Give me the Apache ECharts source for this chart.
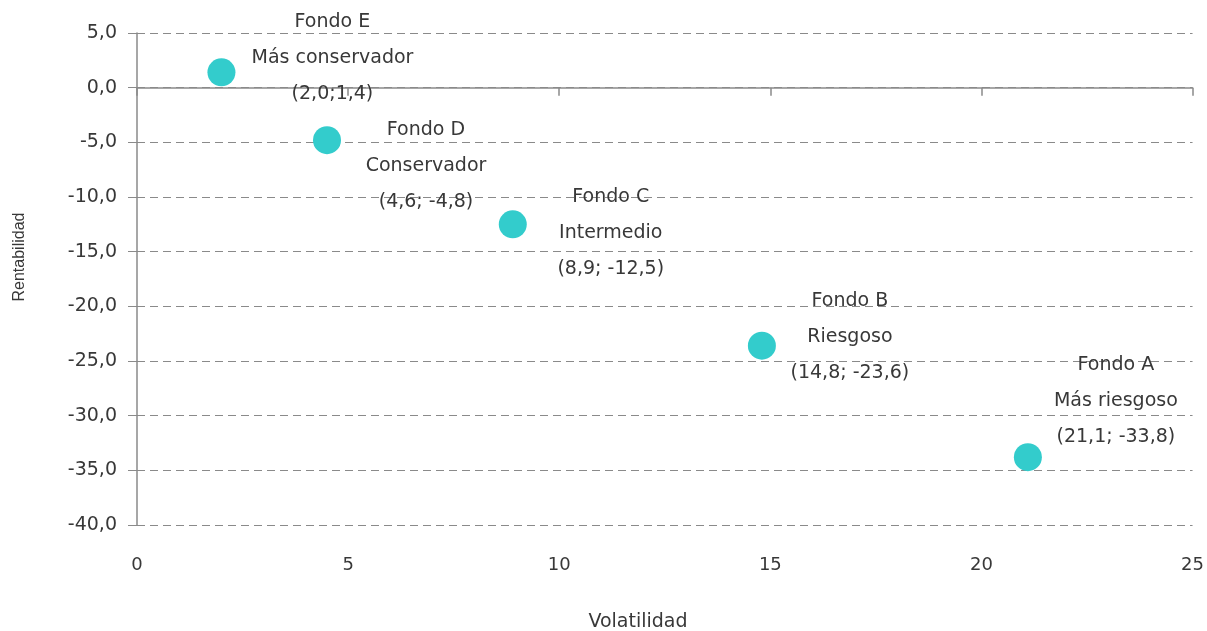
<!DOCTYPE html>
<html>
<head>
<meta charset="utf-8">
<script src="https://cdn.jsdelivr.net/npm/echarts@6/dist/echarts.min.js"></script>
<style>
html,body{margin:0;padding:0;background:#fff;}
#chart{width:1207px;height:631px;}
</style>
</head>
<body>
<div id="chart"></div>
<script>
// ---- data ----
const fundNames = ['Fondo E', 'Fondo D', 'Fondo C', 'Fondo B', 'Fondo A'];
const fundProfiles = ['Más conservador', 'Conservador', 'Intermedio', 'Riesgoso', 'Más riesgoso'];
const volatility = [2.0, 4.5, 8.9, 14.8, 21.1];
const returns = [1.4, -4.8, -12.5, -23.6, -33.8];
const coordLabels = ['(2,0;1,4)', '(4,6; -4,8)', '(8,9; -12,5)', '(14,8; -23,6)', '(21,1; -33,8)'];
const xAxisTitle = 'Volatilidad';
const yAxisTitle = 'Rentabilidad';

// ---- layout (label placement per point, px) ----
const labelOffsets = [[111, -14], [99, 26], [98, 9], [88, -9], [88, -56]];

const textColor = '#383838';
const lineColor = '#8a8a8a';
const font = 'DejaVu Sans';

const seriesData = volatility.map((v, i) => ({
  value: [v, returns[i]],
  name: fundNames[i],
  label: { offset: labelOffsets[i] }
}));

const chart = echarts.init(document.getElementById('chart'), null, { renderer: 'canvas' });
chart.setOption({
  animation: false,
  backgroundColor: '#ffffff',
  grid: { left: 137, right: 14, top: 33, bottom: 106, containLabel: false },
  xAxis: [
    {
      type: 'value', min: 0, max: 25, interval: 5,
      axisLine: { show: true, onZero: true, lineStyle: { color: lineColor, width: 1.5 } },
      axisTick: { show: true, length: 8, lineStyle: { color: lineColor, width: 1.5 } },
      axisLabel: { show: false },
      splitLine: { show: false }
    },
    {
      type: 'value', min: 0, max: 25, interval: 5, position: 'bottom',
      axisLine: { show: false, onZero: false },
      axisTick: { show: false },
      axisLabel: { show: true, margin: 31, color: textColor, fontFamily: font, fontSize: 18 },
      splitLine: { show: false }
    }
  ],
  yAxis: {
    type: 'value', min: -40, max: 5, interval: 5,
    axisLine: { show: true, onZero: false, lineStyle: { color: lineColor, width: 1.5 } },
    axisTick: { show: true, length: 9, lineStyle: { color: lineColor, width: 1 } },
    axisLabel: {
      margin: 20, color: textColor, fontFamily: font, fontSize: 19,
      formatter: v => v.toFixed(1).replace('.', ',')
    },
    splitLine: { show: true, lineStyle: { color: lineColor, width: 1, type: [8, 5] } }
  },
  graphic: [
    {
      type: 'text', x: 638, y: 622,
      style: { text: xAxisTitle, fill: textColor, font: '19px "' + font + '"', textAlign: 'center', textVerticalAlign: 'middle' }
    },
    {
      type: 'text', x: 20, y: 257, rotation: Math.PI / 2,
      style: { text: yAxisTitle, fill: textColor, font: '16px "Liberation Sans"', textAlign: 'center', textVerticalAlign: 'middle' }
    }
  ],
  series: [{
    type: 'scatter',
    xAxisIndex: 0,
    symbol: 'circle',
    symbolSize: 28,
    itemStyle: { color: '#33CCCC', opacity: 1 },
    data: seriesData,
    label: {
      show: true,
      position: 'inside',
      align: 'center',
      verticalAlign: 'middle',
      color: textColor,
      opacity: 1,
      fontFamily: font,
      fontSize: 19,
      lineHeight: 36,
      formatter: p => fundNames[p.dataIndex] + '\n' + fundProfiles[p.dataIndex] + '\n' + coordLabels[p.dataIndex]
    },
    emphasis: { disabled: true }
  }]
});
</script>
</body>
</html>
